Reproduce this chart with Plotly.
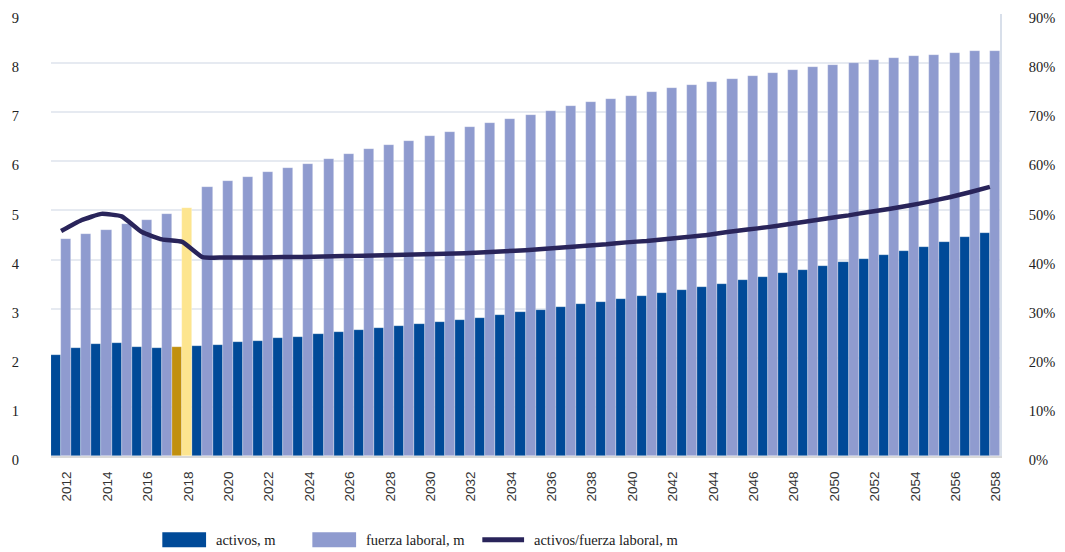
import plotly.graph_objects as go

# years on the category axis
years = list(range(2012, 2059))

# activos (millions)
activos = [2.05, 2.19, 2.29, 2.31, 2.21, 2.19, 2.22, 2.24, 2.27, 2.32,
           2.35, 2.40, 2.43, 2.48, 2.52, 2.56, 2.60, 2.64, 2.69, 2.72,
           2.77, 2.82, 2.87, 2.93, 2.97, 3.03, 3.09, 3.13, 3.20, 3.25,
           3.32, 3.38, 3.44, 3.51, 3.58, 3.65, 3.73, 3.79, 3.87, 3.95,
           4.02, 4.10, 4.18, 4.26, 4.36, 4.45, 4.55]

# fuerza laboral (millions)
fuerza = [4.42, 4.52, 4.60, 4.72, 4.81, 4.92, 5.06, 5.48, 5.59, 5.68,
          5.78, 5.86, 5.95, 6.05, 6.15, 6.25, 6.33, 6.42, 6.51, 6.60,
          6.69, 6.79, 6.87, 6.95, 7.03, 7.12, 7.20, 7.26, 7.34, 7.42,
          7.49, 7.55, 7.61, 7.68, 7.74, 7.79, 7.85, 7.92, 7.96, 8.01,
          8.06, 8.11, 8.15, 8.17, 8.21, 8.24, 8.25]

# activos / fuerza laboral (%)
ratio = [45.8, 48.0, 49.3, 48.8, 45.6, 44.1, 43.6, 40.5, 40.4, 40.4,
         40.4, 40.5, 40.5, 40.6, 40.7, 40.8, 40.9, 41.0, 41.1, 41.2,
         41.3, 41.5, 41.7, 41.9, 42.2, 42.5, 42.8, 43.1, 43.5, 43.8,
         44.2, 44.6, 45.0, 45.6, 46.1, 46.6, 47.2, 47.8, 48.4, 49.0,
         49.7, 50.3, 51.0, 51.8, 52.7, 53.7, 54.8]

highlight_year = 2018

DARK = '#004a98'
LIGHT = '#8f9bcf'
DARK_HL = '#c1900e'
LIGHT_HL = '#fde58f'
LINE = '#29245a'

dark_colors = [DARK_HL if y == highlight_year else DARK for y in years]
light_colors = [LIGHT_HL if y == highlight_year else LIGHT for y in years]

serif = dict(family='Liberation Serif', size=14.5, color='#222222')

fig = go.Figure()
fig.add_trace(go.Bar(x=years, y=activos, name='activos, m',
                     marker=dict(color=dark_colors,
                                 line=dict(color='rgba(255,255,255,0.45)', width=0.6))))
fig.add_trace(go.Bar(x=years, y=fuerza, name='fuerza laboral, m',
                     marker=dict(color=light_colors,
                                 line=dict(color='rgba(255,255,255,0.45)', width=0.6))))
fig.add_trace(go.Scatter(x=years, y=ratio, name='activos/fuerza laboral, m',
                         yaxis='y2', mode='lines',
                         line=dict(color=LINE, width=4.5, shape='spline', smoothing=0.4)))

fig.update_layout(
    width=1065, height=552,
    margin=dict(l=51, r=59, t=10, b=96),
    paper_bgcolor='white', plot_bgcolor='white',
    barmode='group', bargap=0, bargroupgap=0,
    showlegend=False,
    xaxis=dict(range=[2011.5, 2058.5], tickmode='array',
               tickvals=years[::2], ticktext=[str(y) for y in years[::2]],
               tickangle=-90, ticks='', showgrid=False,
               showline=True, linecolor='#d9d9d9', linewidth=2,
               tickfont=dict(family='Liberation Sans', size=13.5, color='#333333'),
               ticklabelstandoff=8, ticklabelshift=6, zeroline=False),
    yaxis=dict(range=[0, 9], dtick=1, showgrid=True, gridcolor='#e6eaf1',
               gridwidth=1.5, zeroline=False, ticks='', tickfont=serif,
               ticklabelstandoff=31, ticklabelshift=4),
    yaxis2=dict(range=[0, 90], dtick=10, ticksuffix='%', overlaying='y',
                side='right', showgrid=False, zeroline=False, ticks='',
                showline=True, linecolor='#d8dfea', linewidth=1.5,
                tickfont=serif, ticklabelstandoff=24, ticklabelshift=4),
)

# legend drawn below the plot, Excel-style wide swatches
ly0, ly1 = -0.1726, -0.2063
ymid = (ly0 + ly1) / 2
fig.add_shape(type='rect', xref='paper', yref='paper', x0=0.1173, x1=0.1634,
              y0=ly1, y1=ly0, fillcolor=DARK, line=dict(width=0))
fig.add_shape(type='rect', xref='paper', yref='paper', x0=0.2754, x1=0.3215,
              y0=ly1, y1=ly0, fillcolor=LIGHT, line=dict(width=0))
fig.add_shape(type='line', xref='paper', yref='paper', x0=0.4545, x1=0.4985,
              y0=ymid, y1=ymid, line=dict(color=LINE, width=5))
for xp, txt in [(0.1717, 'activos, m'), (0.3298, 'fuerza laboral, m'),
                (0.5068, 'activos/fuerza laboral, m')]:
    fig.add_annotation(x=xp, y=ymid, xref='paper', yref='paper', text=txt,
                       showarrow=False, xanchor='left', yanchor='middle',
                       font=dict(family='Liberation Serif', size=14.5, color='#1a1a1a'))

# drop the browser's default body margin so the figure sits at the page corner
fig.write_html('out.html', config={'displayModeBar': False},
               post_script="document.body.style.margin='0';")
